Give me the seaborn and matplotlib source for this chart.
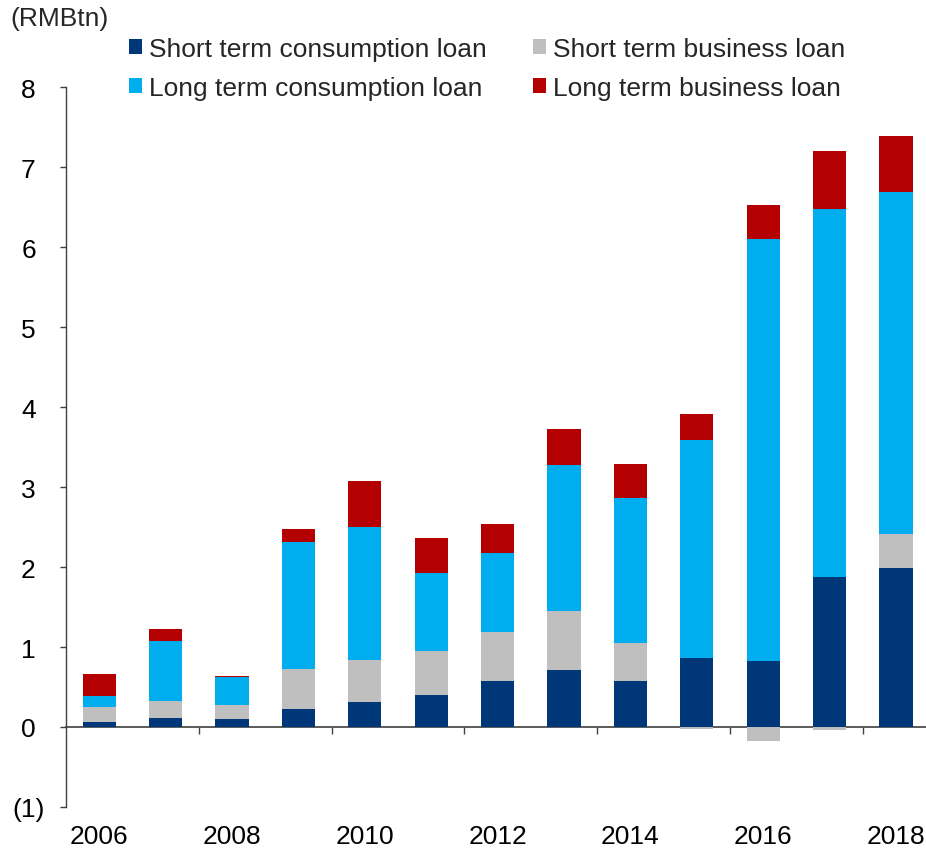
import matplotlib
matplotlib.use("Agg")
import matplotlib.pyplot as plt
import seaborn as sns
import numpy as np
from matplotlib.patches import Patch

# Annual new household loans, RMB trillion
years = [str(y) for y in range(2006, 2019)]
short_consumption = [0.06, 0.11, 0.10, 0.22, 0.31, 0.40, 0.58, 0.71, 0.58, 0.86, 0.83, 1.88, 1.99]
short_business = [0.19, 0.21, 0.18, 0.51, 0.53, 0.55, 0.61, 0.74, 0.47, -0.02, -0.18, -0.04, 0.42]
long_consumption = [0.14, 0.75, 0.35, 1.58, 1.66, 0.97, 0.98, 1.83, 1.81, 2.73, 5.27, 4.60, 4.28]
long_business = [0.27, 0.16, 0.01, 0.17, 0.58, 0.44, 0.37, 0.45, 0.43, 0.32, 0.42, 0.72, 0.70]

series_names = ["Short term consumption loan", "Short term business loan",
                "Long term consumption loan", "Long term business loan"]
series_colors = ["#003778", "#BFBFBF", "#00AEEF", "#B40000"]
y_ticks = [-1, 0, 1, 2, 3, 4, 5, 6, 7, 8]
y_tick_labels = ["(1)", "0", "1", "2", "3", "4", "5", "6", "7", "8"]

sns.set_style("white")
plt.rcParams["font.family"] = ["Liberation Sans", "DejaVu Sans"]

W, H = 926, 853
fig = plt.figure(figsize=(W / 100, H / 100), dpi=100)
ax = fig.add_axes([66 / W, 45 / H, 1 - 66 / W, (808 - 88) / H])

layers = [np.array(short_consumption), np.array(short_business),
          np.array(long_consumption), np.array(long_business)]
pos_tops = np.cumsum([np.clip(v, 0, None) for v in layers], axis=0)
neg_bottoms = np.cumsum([np.clip(v, None, 0) for v in layers], axis=0)

# Stacked bars: draw cumulative totals from the top layer down so each
# lower segment covers the one above it.
for k in range(len(layers) - 1, -1, -1):
    sns.barplot(x=years, y=pos_tops[k], color=series_colors[k], saturation=1,
                width=0.5, linewidth=0, errorbar=None, ax=ax)
    if np.any(neg_bottoms[k] < 0):
        sns.barplot(x=years, y=neg_bottoms[k], color=series_colors[k], saturation=1,
                    width=0.5, linewidth=0, errorbar=None, ax=ax)

ax.set_xlim(-0.5, -0.5 + (W - 66) / 66.4)
ax.set_ylim(-1, 8)
ax.set_xlabel("")
ax.set_ylabel("")

for s in ["top", "right", "bottom"]:
    ax.spines[s].set_visible(False)
ax.spines["left"].set_color("#404040")
ax.spines["left"].set_linewidth(1.0)

ax.set_yticks(y_ticks)
ax.set_yticklabels(y_tick_labels, ha="center")
ax.tick_params(axis="y", direction="out", length=4, width=1.0, color="#404040",
               pad=23, labelsize=19, labelcolor="black", left=True)

ax.set_xticks(range(0, len(years), 2))
ax.set_xticklabels(years[::2])
ax.tick_params(axis="x", length=0, pad=12, labelsize=19, labelcolor="black")

# Zero line with tick marks between every second pair of years
zero_axis = ax.secondary_xaxis(1 / 9)
zero_axis.set_xticks([i + 1.5 for i in range(0, len(years) - 2, 2)])
zero_axis.tick_params(axis="x", direction="out", length=5, width=1.0,
                      color="#404040", labelbottom=False)
zero_axis.spines["bottom"].set_color("#404040")
zero_axis.spines["bottom"].set_linewidth(1.2)

fig.text(10 / W, 1 - 19 / H, "(RMBtn)", fontsize=19, va="center", ha="left")

order = [0, 2, 1, 3]
handles = [Patch(facecolor=series_colors[i], edgecolor="none") for i in order]
labels = [series_names[i] for i in order]
fig.legend(handles, labels, ncol=2, loc="upper left",
           bbox_to_anchor=(129 / W, 1 - 38 / H), frameon=False, fontsize=19,
           handlelength=0.48, handleheight=0.48, handletextpad=0.28,
           columnspacing=1.75, labelspacing=0.56, borderpad=0, borderaxespad=0)

fig.savefig("out.png", dpi=100)
